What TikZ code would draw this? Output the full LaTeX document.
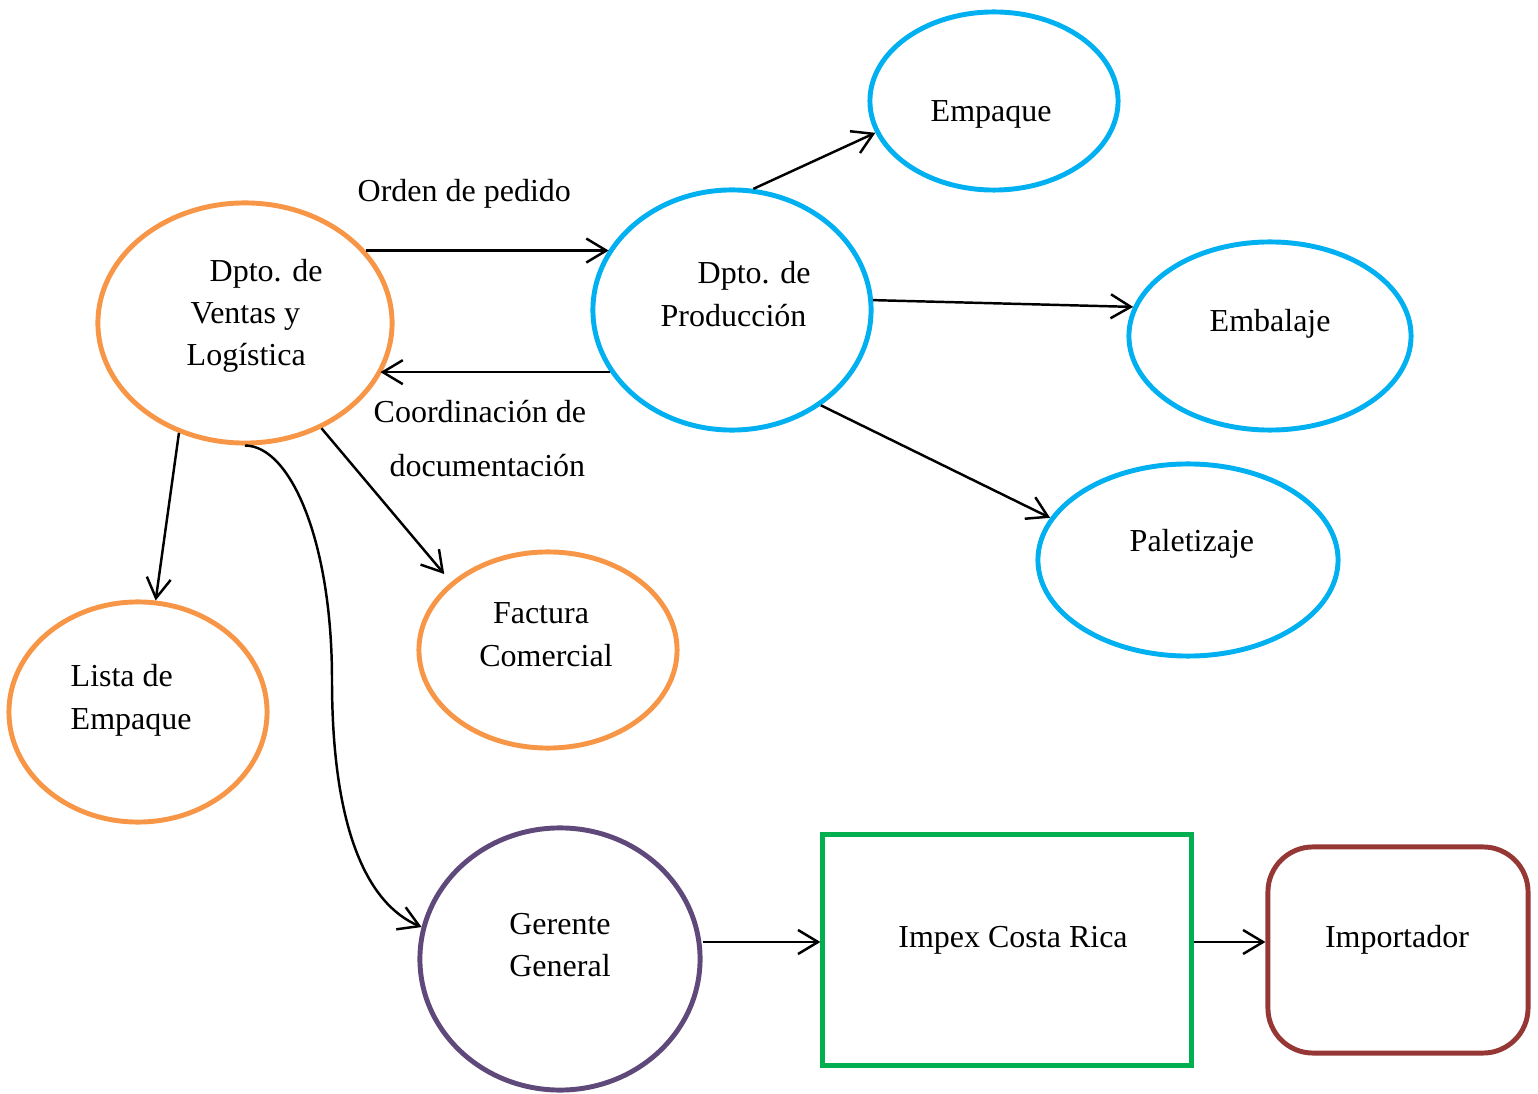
\documentclass[tikz,border=0pt]{standalone}
\usepackage{fontspec}
\setmainfont{Liberation Serif}
\usetikzlibrary{arrows.meta,shapes.geometric}
\definecolor{corange}{HTML}{F79646}
\definecolor{cblue}{HTML}{00B0F0}
\definecolor{cpurple}{HTML}{5F497A}
\definecolor{cgreen}{HTML}{00B050}
\definecolor{cred}{HTML}{953735}
\tikzset{
  ell/.style={ellipse, draw, line width=1.4pt, inner sep=0pt},
  txt/.style={anchor=base west, inner sep=0pt, font=\fontsize{9.1pt}{11pt}\selectfont},
  ctxt/.style={anchor=base, inner sep=0pt, font=\fontsize{9.1pt}{11pt}\selectfont},
  arr/.style={draw, line width=0.7pt, -{Straight Barb[length=0.2cm,width=0.24cm,line width=0.7pt]}}
}
\begin{document}
\begin{tikzpicture}[x=0.01cm,y=-0.01cm]
\useasboundingbox (0,0) rectangle (1538,1094);
% nodes
\node[ell, draw=corange, minimum width=2.94cm, minimum height=2.40cm] (vent) at (245,323) {};
\node[ell, draw=cblue, minimum width=2.78cm, minimum height=2.40cm] (prod) at (732,310) {};
\node[ell, draw=cblue, minimum width=2.48cm, minimum height=1.78cm] (emp) at (994,101) {};
\node[ell, draw=cblue, minimum width=2.82cm, minimum height=1.88cm] (emb) at (1270,336) {};
\node[ell, draw=cblue, minimum width=3.00cm, minimum height=1.92cm] (pal) at (1188,560) {};
\node[ell, draw=corange, minimum width=2.58cm, minimum height=1.96cm] (fac) at (548,650) {};
\node[ell, draw=corange, minimum width=2.58cm, minimum height=2.20cm] (lis) at (138,712) {};
\node[ell, draw=cpurple, minimum width=2.80cm, minimum height=2.62cm] (ger) at (560,959) {};
\node[draw=cgreen, line width=1.4pt, minimum width=3.68cm, minimum height=2.30cm, inner sep=0pt] (imp) at (1007,950) {};
\node[draw=cred, line width=1.4pt, rounded corners=0.45cm, minimum width=2.60cm, minimum height=2.06cm, inner sep=0pt] (impo) at (1398,950) {};
% texts
\node[txt] (tv1) at (209,282) {Dpto. de};
\node[txt] (tv2) at (190,324) {Ventas y};
\node[txt] (tv3) at (186,366) {Logística};
\node[txt] (tp1) at (697,284) {Dpto. de};
\node[txt] (tp2) at (660,327) {Producción};
\node[txt] (temp) at (930,122) {Empaque};
\node[txt] (temb) at (1209,332) {Embalaje};
\node[txt] (tpal) at (1129,552) {Paletizaje};
\node[ctxt] (tf1) at (541,624) {Factura};
\node[ctxt] (tf2) at (546,667) {Comercial};
\node[txt] (tl1) at (70,687) {Lista de};
\node[txt] (tl2) at (70,729) {Empaque};
\node[ctxt] (tg1) at (560,934) {Gerente};
\node[ctxt] (tg2) at (560,976) {General};
\node[ctxt] (timp) at (1013,947) {Impex Costa Rica};
\node[ctxt] (timpo) at (1397,947) {Importador};
\node[txt] (lord) at (357,202) {Orden de pedido};
\node[txt] (lco1) at (373,423) {Coordinación de};
\node[txt] (lco2) at (389,477) {documentación};
% connectors
\draw[arr] (vent.31) -- (vent.31 -| prod.154);
\draw[arr] (prod.207) -- (prod.207 -| vent.339);
\draw[arr] (prod.80) -- (emp.195);
\draw[arr] (prod.4) -- (emb.168);
\draw[arr] (prod.313) -- (pal.163);
\draw[arr] (vent.239) -- (lis.81);
\draw[arr, shorten >=3pt] (vent.306) -- (fac.145);
\coordinate (mid) at (332,680);
\coordinate (hl) at (0,942);
\draw[arr] (vent.south) .. controls +(45,0) and +(0,-140) .. (mid) .. controls +(0,150) and +(-54,-23) .. (ger.167);
\draw[arr] (ger.east |- hl) -- (imp.west |- hl);
\draw[arr] (imp.east |- hl) -- (impo.west |- hl);
\end{tikzpicture}
\end{document}
